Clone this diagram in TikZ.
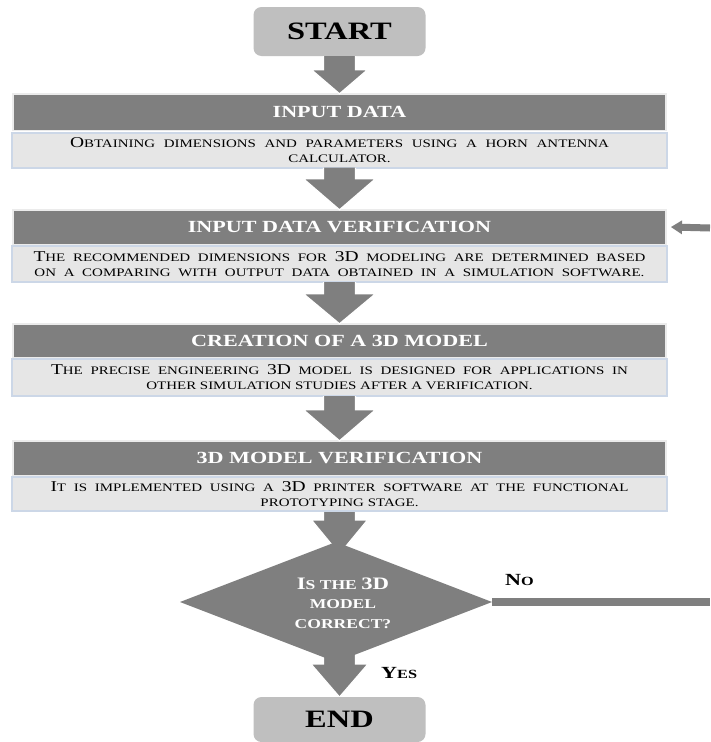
\documentclass[tikz,border=0pt]{standalone}
\usepackage{fontspec}
\setmainfont{Liberation Serif}[FakeStretch=1.3]
\usetikzlibrary{arrows.meta,shapes.geometric,calc,backgrounds}
\definecolor{hdr}{HTML}{7F7F7F}
\definecolor{hdrline}{HTML}{EBEBEB}
\definecolor{dsc}{HTML}{E6E6E6}
\definecolor{dscb}{HTML}{CCD7E7}
\definecolor{term}{HTML}{BFBFBF}
\newcommand\Ini[1]{{\fontsize{15}{15}\selectfont #1}}
\newcommand\DIni[1]{{\fontsize{17.5}{17.5}\selectfont #1}}
\newcommand\LIni[1]{{\fontsize{17}{17}\selectfont #1}}
% block arrow: from #1 to #2, head length #3, head half width #4
\newcommand\barrow[4]{\path[barrowst] let \p1=(#1), \p2=(#2) in
  (\x2-16pt,\y1) -- (\x2-16pt,\y2+#3) -- (\x2-#4,\y2+#3) -- (\x2,\y2) --
  (\x2+#4,\y2+#3) -- (\x2+16pt,\y2+#3) -- (\x2+16pt,\y1);}
\begin{document}
\begin{tikzpicture}[x=1pt,y=-1pt,
  barrowst/.style={fill=hdr, draw=white, line width=1.2pt, line join=miter},
  terminal/.style={rounded corners=8pt, fill=term, minimum width=172pt, minimum height=49pt,
    inner sep=0pt, outer sep=0pt, font=\fontsize{25}{25}\selectfont\bfseries},
  hdrbox/.style={fill=hdr, draw=hdrline, line width=1.5pt, minimum width=653pt, inner sep=0pt,
    outer sep=0pt, text=white, font=\fontsize{17}{17}\selectfont\bfseries},
  dscbox/.style={fill=dsc, draw=dscb, line width=2pt, minimum width=655pt, inner sep=0pt,
    outer sep=0pt, align=center, font=\fontsize{11.5}{15}\selectfont},
  sidearrow/.style={draw=hdr, line width=7pt, -{Triangle[width=14pt,length=11pt,line width=0pt]}},
  decision/.style={diamond, aspect=2.6, fill=hdr, minimum width=312pt, minimum height=120pt,
    inner sep=0pt, outer sep=0pt},
  dectext/.style={text=white, align=center, inner sep=0pt, font=\fontsize{13.5}{19.5}\selectfont\bfseries},
  lbl/.style={font=\fontsize{12.5}{13}\selectfont\bfseries, inner sep=0pt}
]
\useasboundingbox (0,0) rectangle (710,742);

\node[terminal] (start) at (339.5,31.5) {START};

\node[hdrbox, minimum height=36.5pt] (h1) at (339.5,112) {INPUT DATA};
\node[dscbox, minimum height=35pt] (d1) at (339.5,150)
  {\makebox[539pt][s]{\Ini{O}BTAINING DIMENSIONS AND PARAMETERS USING A HORN ANTENNA}\\CALCULATOR.};

\node[hdrbox, minimum height=34.5pt] (h2) at (339.5,227) {INPUT DATA VERIFICATION};
\node[dscbox, minimum height=36pt] (d2) at (339.5,264)
  {\makebox[612pt][s]{\Ini{T}HE RECOMMENDED DIMENSIONS FOR \Ini{3D} MODELING ARE DETERMINED BASED}\\
   \makebox[610pt][s]{ON A COMPARING WITH OUTPUT DATA OBTAINED IN A SIMULATION SOFTWARE.}};

\node[hdrbox, minimum height=33.5pt] (h3) at (339.5,340.5) {CREATION OF A 3D MODEL};
\node[dscbox, minimum height=37pt] (d3) at (339.5,377.5)
  {\makebox[577pt][s]{\Ini{T}HE PRECISE ENGINEERING \Ini{3D} MODEL IS DESIGNED FOR APPLICATIONS IN}\\
   OTHER SIMULATION STUDIES AFTER A VERIFICATION.};

\node[hdrbox, minimum height=34.5pt] (h4) at (339.5,458) {3D MODEL VERIFICATION};
\node[dscbox, minimum height=34pt] (d4) at (339.5,494)
  {\makebox[578pt][s]{\Ini{I}T IS IMPLEMENTED USING A \Ini{3D} PRINTER SOFTWARE AT THE FUNCTIONAL}\\
   PROTOTYPING STAGE.};

\node[decision] (dec) at (336,602) {};
\node[dectext] (dq) at (343,603) {\DIni{I}S THE \DIni{3D}\\MODEL\\CORRECT?};

\node[terminal, minimum height=45pt] (end) at (339.5,719.5) {END};

\coordinate (t5) at ($(d4.south |- dec.north)+(0,12)$);

\begin{scope}[on background layer]
  \fill[white] (0,0) rectangle (710,742);
  \barrow{d4.south}{t5}{34pt}{28pt}
  \barrow{dec.center}{end.north}{33pt}{28.5pt}
\end{scope}

\barrow{start.south}{h1.north}{24pt}{28pt}
\barrow{d1.south}{h2.north}{31pt}{36pt}
\barrow{d2.south}{h3.north}{30pt}{36pt}
\barrow{d3.south}{h4.north}{31pt}{36pt}

\coordinate (noend) at (710,602);
\coordinate (fbin) at (710,228);
\draw[draw=hdr, line width=7.5pt] (dec.east) -- (noend);
\draw[sidearrow] (fbin) -- ([xshift=5pt]h2.east);

\node[lbl, anchor=base west] (no) at (505,585) {\LIni{N}O};
\node[lbl, anchor=base west] (yes) at (381,678) {\LIni{Y}ES};
\end{tikzpicture}
\end{document}
